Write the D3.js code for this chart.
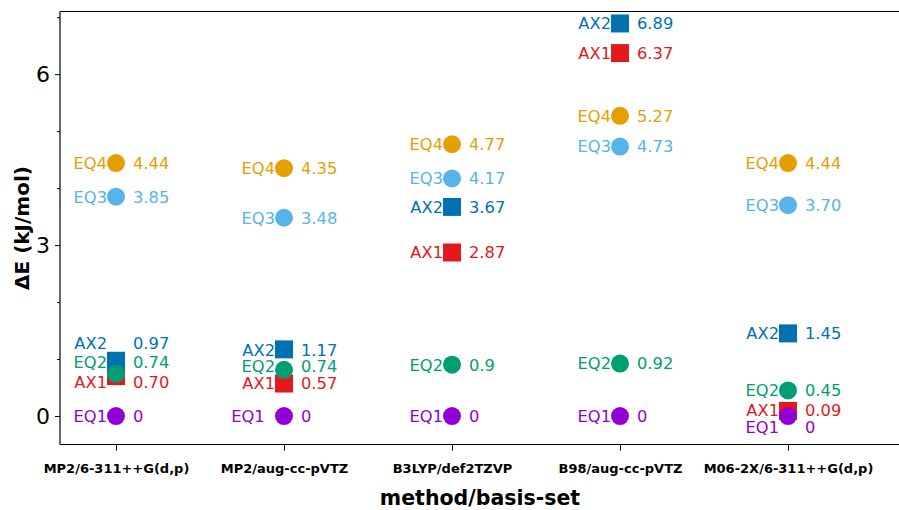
<!DOCTYPE html>
<html>
<head>
<meta charset="utf-8">
<script src="https://cdn.jsdelivr.net/npm/d3@7"></script>
<style>
body{margin:0;background:#fff;}
svg{display:block;font-family:"DejaVu Sans",sans-serif;}
</style>
</head>
<body>
<svg id="chart" width="899" height="510"></svg>
<script>
const methods = ["MP2/6-311++G(d,p)", "MP2/aug-cc-pVTZ", "B3LYP/def2TZVP", "B98/aug-cc-pVTZ", "M06-2X/6-311++G(d,p)"];
const seriesNames = ["AX1", "AX2", "EQ1", "EQ2", "EQ3", "EQ4"];
const seriesColors = ["#e31a1c", "#0072b2", "#9400d3", "#009e73", "#56b4e9", "#e69f00"];
const seriesShapes = ["square", "square", "circle", "circle", "circle", "circle"];
// energies per series, one per method (marker positions)
const valuesAX1 = [0.70, 0.57, 2.87, 6.37, 0.09];
const valuesAX2 = [0.97, 1.17, 3.67, 6.89, 1.45];
const valuesEQ1 = [0, 0, 0, 0, 0];
const valuesEQ2 = [0.74, 0.81, 0.90, 0.92, 0.45];
const valuesEQ3 = [3.85, 3.48, 4.17, 4.73, 3.70];
const valuesEQ4 = [4.44, 4.35, 4.77, 5.27, 4.44];
// value label strings as printed
const textAX1 = ["0.70", "0.57", "2.87", "6.37", "0.09"];
const textAX2 = ["0.97", "1.17", "3.67", "6.89", "1.45"];
const textEQ1 = ["0", "0", "0", "0", "0"];
const textEQ2 = ["0.74", "0.74", "0.9", "0.92", "0.45"];
const textEQ3 = ["3.85", "3.48", "4.17", "4.73", "3.70"];
const textEQ4 = ["4.44", "4.35", "4.77", "5.27", "4.44"];
// annotation anchor (in ΔE units) where labels were placed to avoid overlap
const labelAtAX1 = [0.60, 0.57, 2.87, 6.37, 0.10];
const labelAtAX2 = [1.28, 1.16, 3.67, 6.89, 1.45];
const labelAtEQ1 = [0, 0, 0, 0, -0.19];
const labelAtEQ2 = [0.95, 0.88, 0.90, 0.92, 0.45];
const labelAtEQ3 = [3.85, 3.48, 4.17, 4.73, 3.70];
const labelAtEQ4 = [4.44, 4.35, 4.77, 5.27, 4.44];

const allValues = [valuesAX1, valuesAX2, valuesEQ1, valuesEQ2, valuesEQ3, valuesEQ4];
const allTexts = [textAX1, textAX2, textEQ1, textEQ2, textEQ3, textEQ4];
const allLabelAt = [labelAtAX1, labelAtAX2, labelAtEQ1, labelAtEQ2, labelAtEQ3, labelAtEQ4];
const yMajorTicks = [0, 3, 6];
const yMinorTicks = [1, 2, 4, 5, 7];

const svg = d3.select("#chart");
const pLeft = 60, pRight = 900, pTop = 11.5, pBottom = 444.5;
const x = d3.scaleLinear().domain([-1/3, 14/3]).range([pLeft, pRight]);
const y = d3.scaleLinear().domain([-0.5, 7.1]).range([pBottom, pTop]);

// frame
const frame = svg.append("g").attr("stroke", "#000").attr("stroke-width", 1.2).attr("fill", "none");
frame.append("line").attr("x1", pLeft).attr("x2", pLeft).attr("y1", pTop).attr("y2", pBottom);
frame.append("line").attr("x1", pLeft).attr("x2", 899).attr("y1", pTop).attr("y2", pTop);
frame.append("line").attr("x1", pLeft).attr("x2", 899).attr("y1", pBottom).attr("y2", pBottom);

// y axis
const yAxis = d3.axisLeft(y).tickValues(yMajorTicks).tickSize(5).tickPadding(5).tickFormat(d3.format("d"));
const gy = svg.append("g").attr("transform", `translate(${pLeft},0)`).call(yAxis);
gy.select(".domain").remove();
gy.selectAll("text").attr("font-size", 22).attr("font-family", "DejaVu Sans").attr("fill", "#000");
gy.selectAll("line").attr("stroke", "#000");
const yAxisMinor = d3.axisLeft(y).tickValues(yMinorTicks).tickSize(3).tickFormat("");
const gym = svg.append("g").attr("transform", `translate(${pLeft},0)`).call(yAxisMinor);
gym.select(".domain").remove();
gym.selectAll("line").attr("stroke", "#000");

// x axis
const xAxis = d3.axisBottom(x).tickValues(d3.range(methods.length)).tickSize(6).tickPadding(13)
  .tickFormat(i => methods[i]);
const gx = svg.append("g").attr("transform", `translate(0,${pBottom})`).call(xAxis);
gx.select(".domain").remove();
gx.selectAll("text").attr("font-size", 13).attr("font-weight", "bold").attr("font-family", "DejaVu Sans").attr("fill", "#000");
gx.selectAll("line").attr("stroke", "#000");

// axis titles
svg.append("text").attr("x", (pLeft + pRight) / 2).attr("y", 505).attr("text-anchor", "middle")
  .attr("font-size", 20.5).attr("font-weight", "bold").text("method/basis-set");
svg.append("text").attr("transform", `translate(29,${(pTop + pBottom) / 2}) rotate(-90)`)
  .attr("text-anchor", "middle").attr("font-size", 20).attr("font-weight", "bold").text("ΔE (kJ/mol)");

// markers and annotations
const pts = [];
seriesNames.forEach((s, si) => {
  methods.forEach((m, mi) => {
    pts.push({s, si, mi, v: allValues[si][mi], t: allTexts[si][mi], la: allLabelAt[si][mi],
      color: seriesColors[si], shape: seriesShapes[si]});
  });
});
const g = svg.append("g");
pts.forEach(p => {
  const cx = x(p.mi), cy = y(p.v);
  if (p.shape === "square") {
    g.append("rect").attr("x", cx - 9).attr("y", cy - 9).attr("width", 18).attr("height", 18).attr("fill", p.color);
  } else {
    g.append("circle").attr("cx", cx).attr("cy", cy).attr("r", 9).attr("fill", p.color);
  }
});
const lab = svg.append("g").attr("font-size", 16.3);
pts.forEach(p => {
  const cx = x(p.mi), ly = y(p.la);
  const name = (p.s === "EQ1" && p.mi === 1) ? p.s + "\u00a0\u00a0" : p.s;
  lab.append("text").attr("x", cx - 9).attr("y", ly).attr("dy", "0.36em").attr("text-anchor", "end")
    .attr("fill", p.color).text(name);
  lab.append("text").attr("x", cx + 17).attr("y", ly).attr("dy", "0.36em").attr("text-anchor", "start")
    .attr("fill", p.color).text(p.t);
});
</script>
</body>
</html>
